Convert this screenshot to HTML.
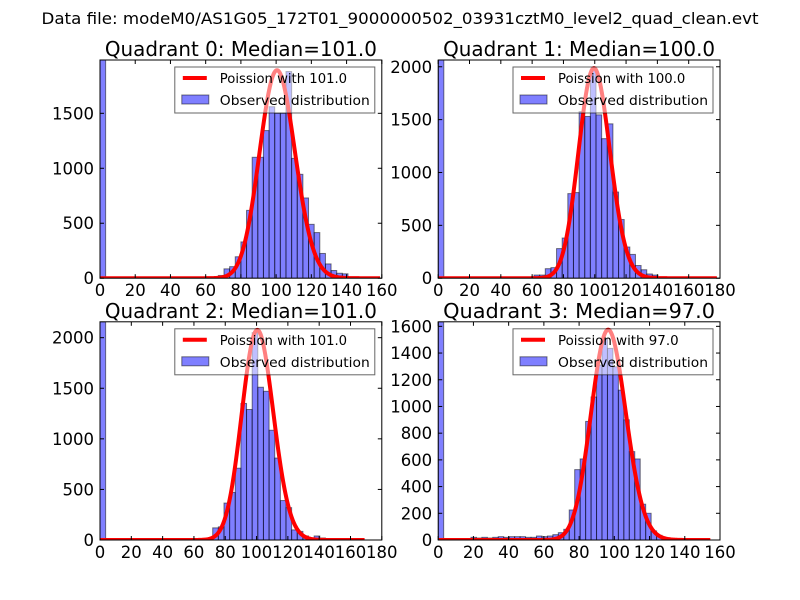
<!DOCTYPE html>
<html><head><meta charset="utf-8"><style>
html,body{margin:0;padding:0;background:#fff;}
svg{display:block;font-family:"DejaVu Sans","Liberation Sans",sans-serif;}
</style></head><body>
<svg id="fig" width="800" height="600" viewBox="0 0 800 600">
<rect width="800" height="600" fill="#fff"/>
<text x="400" y="24" text-anchor="middle" font-size="16" textLength="717" lengthAdjust="spacingAndGlyphs">Data file: modeM0/AS1G05_172T01_9000000502_03931cztM0_level2_quad_clean.evt</text>
</svg>
<script>
// ---- data ----
const titles = ["Quadrant 0: Median=101.0","Quadrant 1: Median=100.0","Quadrant 2: Median=101.0","Quadrant 3: Median=97.0"];
const lambdas = [101.0, 100.0, 101.0, 97.0];
const curvePeaks = [1890, 1985, 2075, 1573];
const curveEnds = [159, 178, 169, 154.5];
const binWidths = [3.2, 3.6, 3.6, 3.1];
const xMaxes = [160, 180, 180, 160];
const yMaxes = [1985, 2064, 2157, 1634];
const xTickLabels0 = [0,20,40,60,80,100,120,140,160];
const xTickLabels1 = [0,20,40,60,80,100,120,140,160,180];
const yTickLabels0 = [0,500,1000,1500];
const yTickLabels1 = [0,500,1000,1500,2000];
const yTickLabels3 = [0,200,400,600,800,1000,1200,1400,1600];
const counts0 = [1985,0,0,0,0,0,0,0,0,0,0,0,0,0,0,0,0,0,0,0,0,25,85,105,195,330,617,1100,1100,1343,1560,1500,1500,1880,1090,945,730,490,415,225,130,70,45,40,10,0,0,0,0,0];
const counts1 = [2064,0,0,0,0,0,0,0,0,0,0,0,0,0,0,0,10,30,30,90,100,280,380,800,810,1575,1530,1970,1545,1320,1460,815,555,295,225,120,80,40,30,0,0,0,0,0,0,0,0,0,0,0];
const counts2 = [2157,0,0,0,0,0,0,0,0,0,0,0,0,0,0,0,0,0,0,15,120,130,365,470,710,1350,1290,2050,1510,1470,1085,810,390,320,100,85,40,15,40,20,0,0,0,0,0,0,0,0,0,0];
const counts3 = [1634,5,5,5,5,5,20,15,20,15,20,25,20,25,25,25,20,20,30,25,30,40,55,80,225,527,607,888,1071,1310,1510,1435,1297,1122,900,662,607,268,200,68,35,18,10,0,0,0,0,0,0,0];
const allCounts = [counts0, counts1, counts2, counts3];
const xTicksPer = [xTickLabels0, xTickLabels1, xTickLabels1, xTickLabels0];
const yTicksPer = [yTickLabels0, yTickLabels1, yTickLabels1, yTickLabels3];

const NS = "http://www.w3.org/2000/svg";
const svg = document.getElementById('fig');
function mk(tag, attrs, parent){
  const e = document.createElementNS(NS, tag);
  for (const k in attrs) e.setAttribute(k, attrs[k]);
  (parent||svg).appendChild(e);
  return e;
}
function lgam(n){
  if (n < 2) return 0;
  return n*Math.log(n) - n + 0.5*Math.log(2*Math.PI*n) + 1/(12*n);
}
function lpmf(k, lam){ return k*Math.log(lam) - lam - lgam(k); }

const W = 281.8, H = 218.2;
const lefts = [100, 438.2, 100, 438.2];
const tops = [60, 60, 321.8, 321.8];

for (let p = 0; p < 4; p++){
  const L = lefts[p], T = tops[p], R = L + W, B = T + H;
  const g = mk('g', {});
  
  
  const xs = v => L + v / xMaxes[p] * W;
  const ys = v => B - v / yMaxes[p] * H;
  const clipId = 'clip' + p;
  const cp = mk('clipPath', {id: clipId}, g);
  mk('rect', {x: L, y: T, width: W, height: H}, cp);
  const plot = mk('g', {'clip-path': 'url(#' + clipId + ')'}, g);
  const cs = allCounts[p];
  for (let i = 0; i < cs.length; i++){
    if (cs[i] <= 0) continue;
    const x0 = xs(i * binWidths[p]), x1 = xs((i+1) * binWidths[p]);
    const r = mk('rect', {x: x0, y: ys(cs[i]), width: x1 - x0, height: B - ys(cs[i]),
      fill: 'rgba(0,0,255,0.5)', stroke: 'rgba(0,0,0,0.5)', 'stroke-width': 1}, plot);
    
    
  }
  const lam = lambdas[p], lmax = lpmf(lam, lam);
  let d = '';
  for (let k = 0; k <= curveEnds[p]; k += 0.5){
    const v = curvePeaks[p] * Math.exp(lpmf(k, lam) - lmax);
    d += (d ? 'L' : 'M') + xs(k).toFixed(2) + ',' + ys(v).toFixed(2);
  }
  const line = mk('path', {d: d, fill: 'none', stroke: '#ff0000', 'stroke-width': 4, 'stroke-linejoin': 'round'}, plot);
  
  
  const fr = mk('rect', {x: L, y: T, width: W, height: H, fill: 'none', stroke: '#000', 'stroke-width': 1}, g);
  
  
  xTicksPer[p].forEach(v => {
    const x = xs(v);
    mk('line', {x1: x, y1: B, x2: x, y2: B - 4, stroke: '#000'}, g);
    mk('line', {x1: x, y1: T, x2: x, y2: T + 4, stroke: '#000'}, g);
    const t = mk('text', {x: x, y: B + 18, 'text-anchor': 'middle', 'font-size': 16.5}, g);
    t.textContent = v;
    
    
  });
  yTicksPer[p].forEach(v => {
    const y = ys(v);
    mk('line', {x1: L, y1: y, x2: L + 4, y2: y, stroke: '#000'}, g);
    mk('line', {x1: R, y1: y, x2: R - 4, y2: y, stroke: '#000'}, g);
    const t = mk('text', {x: L - 6, y: y + 6, 'text-anchor': 'end', 'font-size': 16.5}, g);
    t.textContent = v;
    
    
  });
  const tt = mk('text', {x: L + W/2, y: T - 4, 'text-anchor': 'middle', 'font-size': 20, textLength: 272, lengthAdjust: 'spacingAndGlyphs'}, g);
  tt.textContent = titles[p];
  
  
  const lg = mk('g', {}, g);
  
  
  const lx = R - 207, ly = T + 7;
  mk('rect', {x: lx, y: ly, width: 200, height: 46, fill: 'rgba(255,255,255,0.5)', stroke: 'rgba(0,0,0,0.6)', 'stroke-width': 1}, lg);
  const ls = mk('line', {x1: lx + 8, y1: ly + 11, x2: lx + 32, y2: ly + 11, stroke: '#ff0000', 'stroke-width': 4}, lg);
  
  
  const lab1 = 'Poission with ' + lambdas[p].toFixed(1);
  const lt1 = mk('text', {x: lx + 45, y: ly + 16, 'font-size': 13.5, textLength: (lab1.length * 6.7).toFixed(1), lengthAdjust: 'spacingAndGlyphs'}, lg);
  lt1.textContent = lab1;
  
  
  const lp = mk('rect', {x: lx + 7, y: ly + 28, width: 27, height: 9, fill: 'rgba(0,0,255,0.5)', stroke: 'rgba(0,0,0,0.5)'}, lg);
  
  
  const lt2 = mk('text', {x: lx + 45, y: ly + 38, 'font-size': 13.5, textLength: 150, lengthAdjust: 'spacingAndGlyphs'}, lg);
  lt2.textContent = 'Observed distribution';
  
  
}
</script>
</body></html>
